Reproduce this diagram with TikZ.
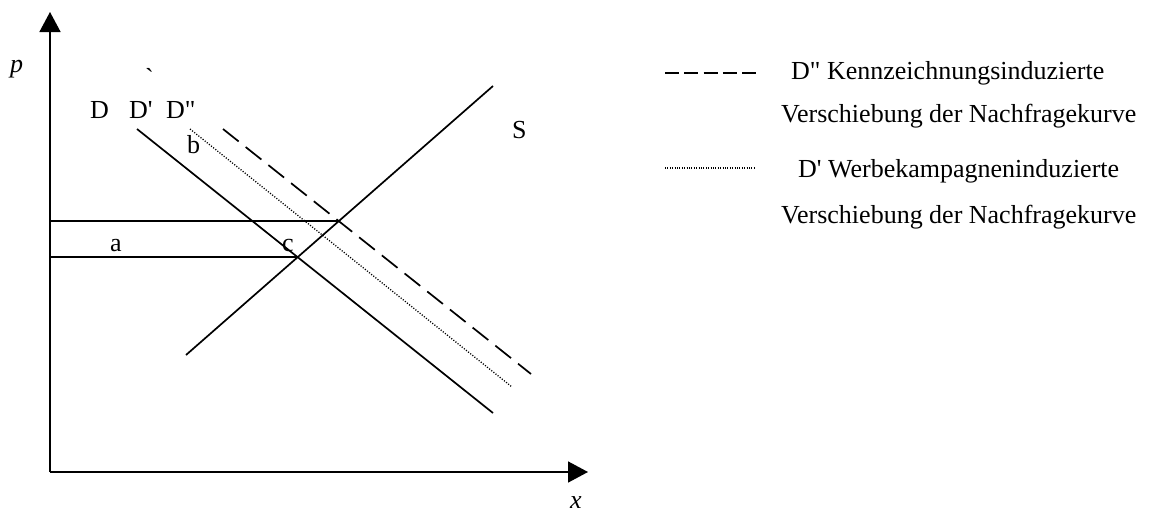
\documentclass[tikz,border=0pt]{standalone}
\usepackage{fontspec}
\newfontfamily\tnr{Liberation Serif}
\usetikzlibrary{arrows.meta}
\begin{document}
\begin{tikzpicture}[x=1pt,y=-1pt,
  lbl/.style={font=\tnr\fontsize{26}{31}\selectfont, inner sep=0pt, anchor=base west},
  ax/.style={line width=1.6pt, -{Triangle[length=20pt,width=21pt]}},
  curve/.style={line width=1.7pt},
  dotcurve/.style={line width=1.3pt, dash pattern=on 1.1pt off 1.6pt},
  dashcurve/.style={line width=1.7pt, dash pattern=on 20pt off 9pt},
  legdash/.style={line width=1.6pt, dash pattern=on 14pt off 5.25pt},
  legdot/.style={line width=1.1pt, dash pattern=on 0.9pt off 1.5pt}
]
\useasboundingbox (0,0) rectangle (1152,514);
% axes
\coordinate (O) at (50,472);
\coordinate (ytop) at (50,12);
\coordinate (xend) at (588,472);
\draw[ax] (O) -- (ytop);
\draw[ax] (O) -- (xend);
% curves
\coordinate (D1) at (137,129);
\coordinate (D2) at (493,413);
\coordinate (Dp1) at (190,129);
\coordinate (Dp2) at (512,387);
\coordinate (Dpp1) at (223,129);
\coordinate (Dpp2) at (531,374);
\coordinate (S1) at (186,355);
\coordinate (S2) at (493,86);
\draw[curve] (D1) -- (D2);
\draw[dotcurve] (Dp1) -- (Dp2);
\draw[dashcurve] (Dpp1) -- (Dpp2);
\draw[curve] (S1) -- (S2);
% equilibria
\coordinate (E1) at (intersection of D1--D2 and S1--S2);
\coordinate (E2) at (intersection of Dpp1--Dpp2 and S1--S2);
\coordinate (H1) at (O |- E1);
\coordinate (H2) at (O |- E2);
\draw[curve] (H1) -- (E1);
\draw[curve] (H2) -- (E2);
% labels
\node[lbl] (lp) at (10,72) {\itshape p};
\node[lbl] (lx) at (570,508) {\itshape x};
\node[lbl] (lgrave) at (145,86) {`};
\node[lbl] (lD) at (90,118) {D};
\node[lbl] (lDp) at (129,118) {D'};
\node[lbl] (lDpp) at (166,118) {D"};
\node[lbl] (lb) at (187,153) {b};
\node[lbl] (la) at (110,251) {a};
\node[lbl] (lc) at (282,251) {c};
\node[lbl] (lS) at (512,138) {S};
% legend
\coordinate (L1a) at (665,73);
\coordinate (L1b) at (756,73);
\coordinate (L2a) at (665,168);
\coordinate (L2b) at (756,168);
\draw[legdash] (L1a) -- (L1b);
\draw[legdot] (L2a) -- (L2b);
\node[lbl] (t1) at (791,79) {D" Kennzeichnungsinduzierte};
\node[lbl] (t2) at (781,122) {Verschiebung der Nachfragekurve};
\node[lbl] (t3) at (798,177) {D' Werbekampagneninduzierte};
\node[lbl] (t4) at (781,223) {Verschiebung der Nachfragekurve};
\end{tikzpicture}
\end{document}
